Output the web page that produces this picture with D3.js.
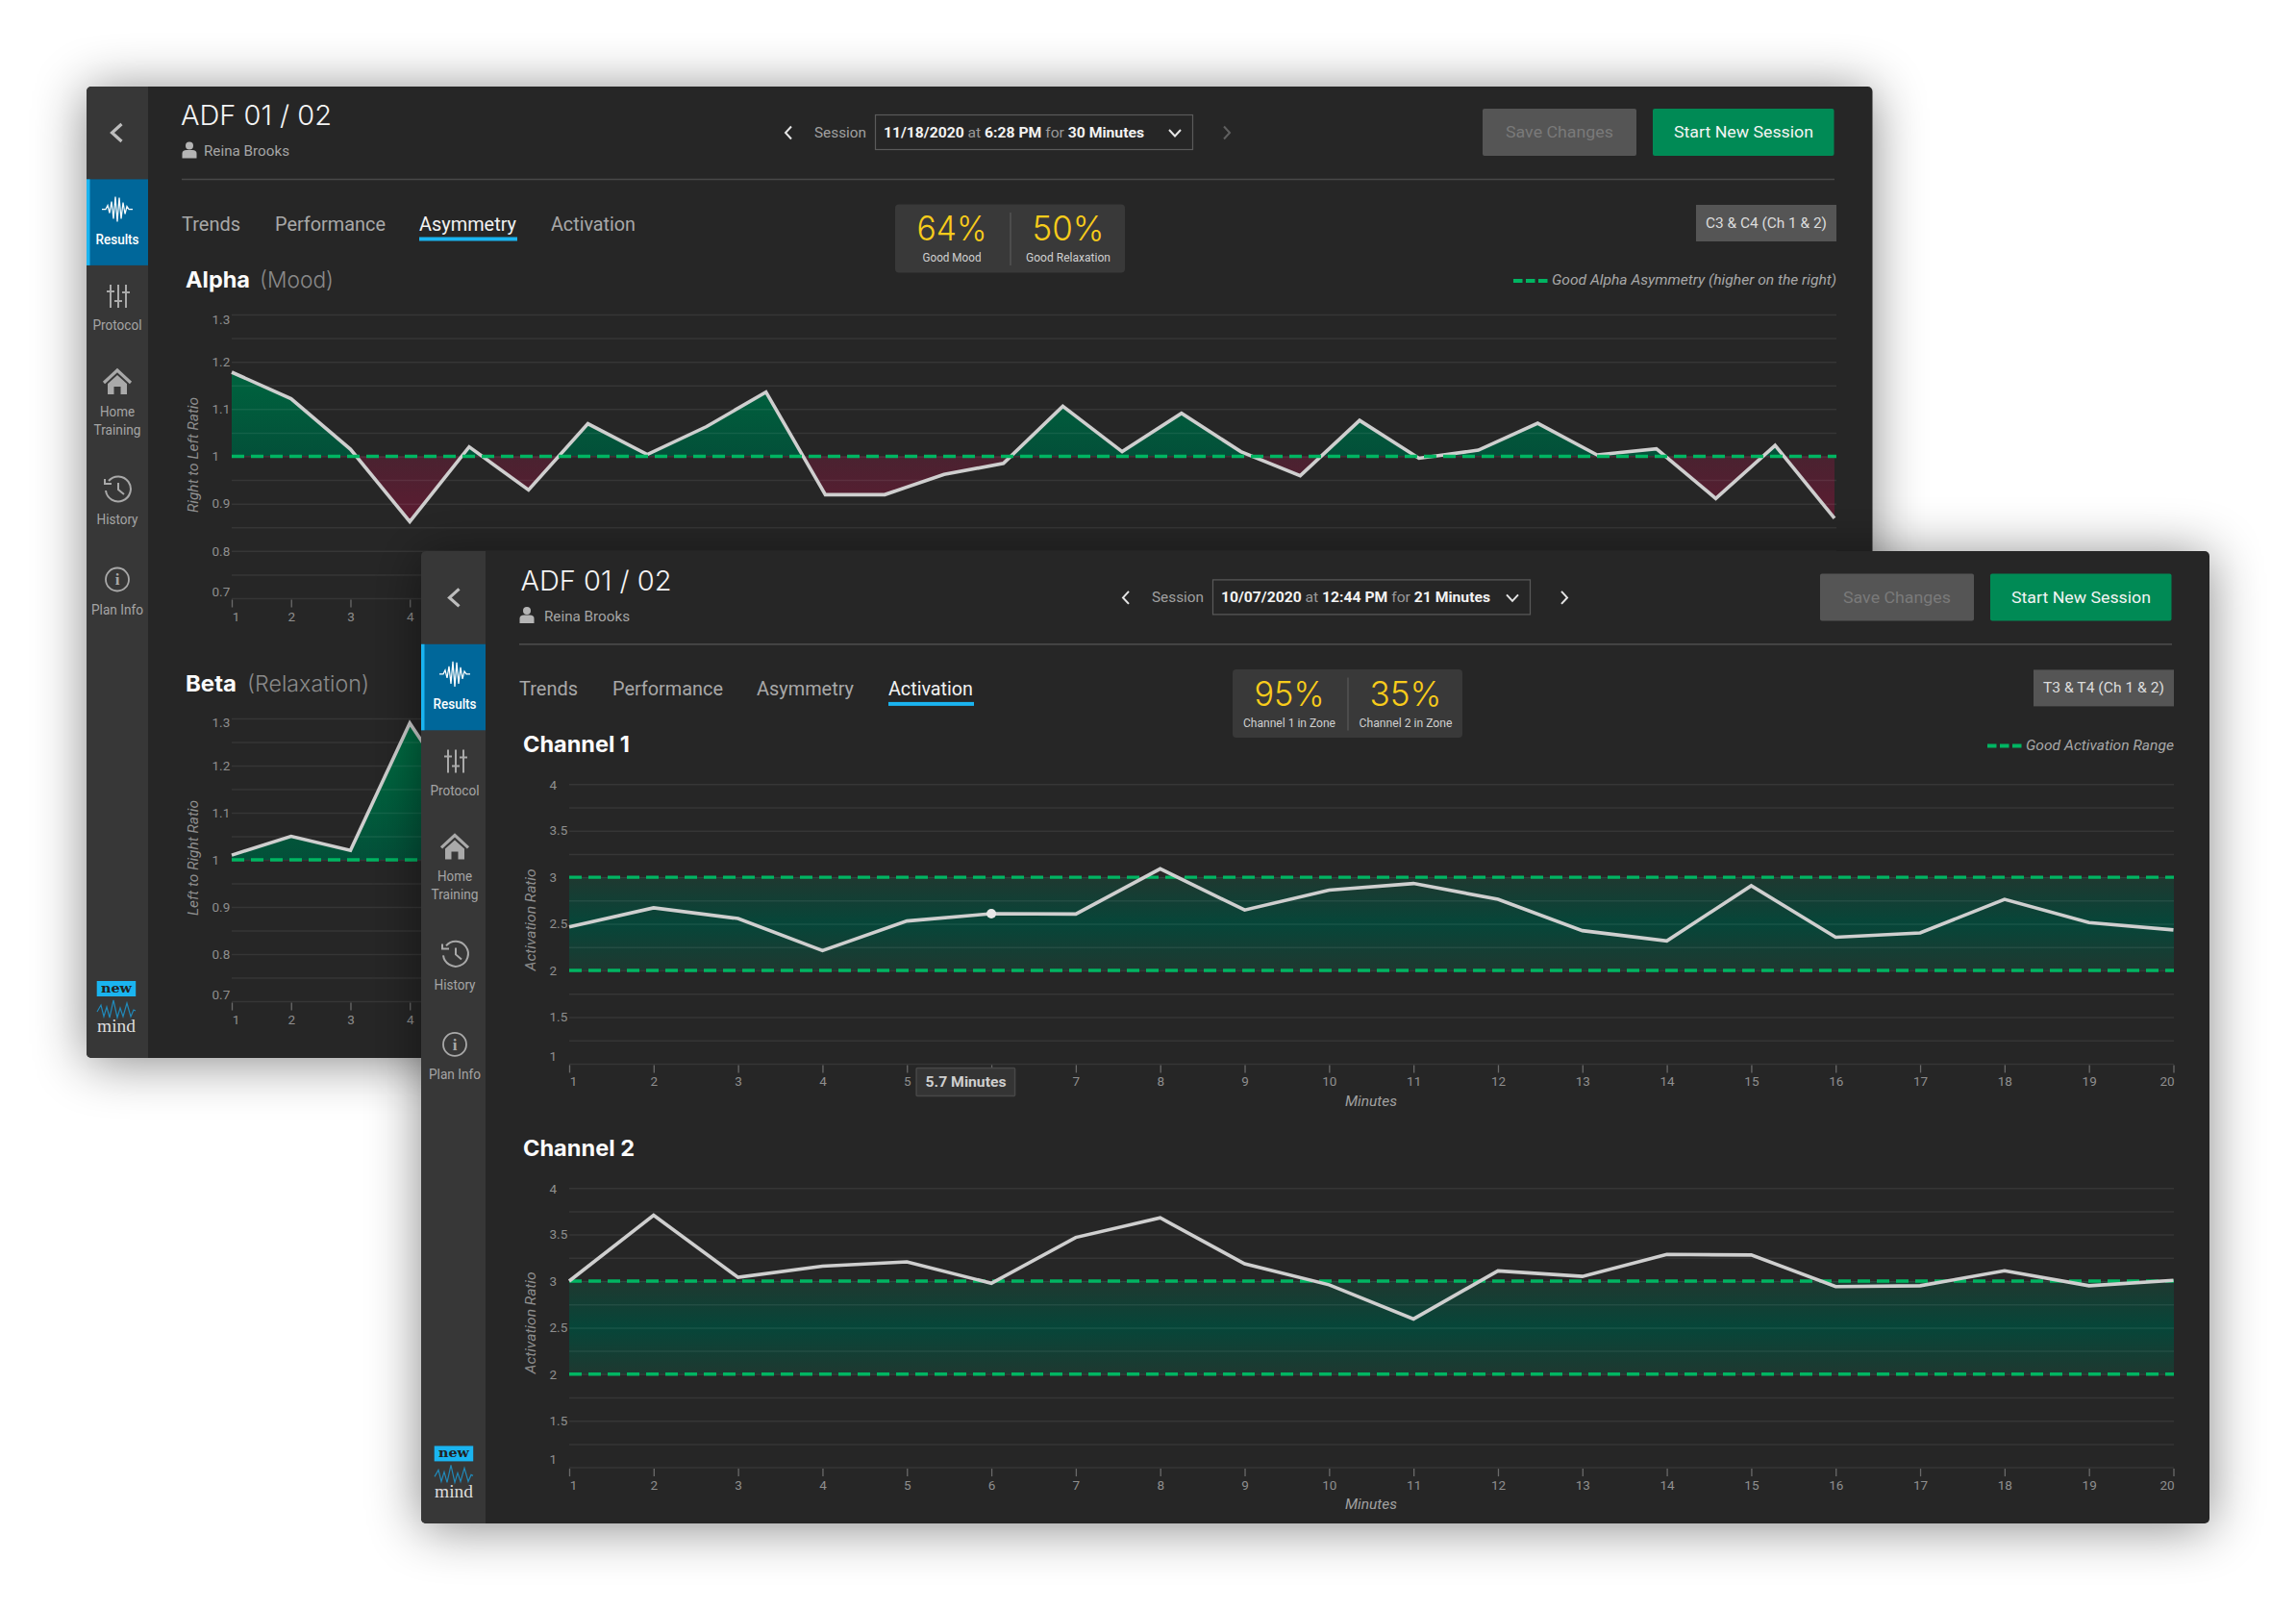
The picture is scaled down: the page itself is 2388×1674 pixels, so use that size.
<!DOCTYPE html>
<html><head><meta charset="utf-8">
<style>html,body{margin:0;padding:0;background:#fff}svg{display:block}text{font-family:Roboto,sans-serif}</style>
<script src="https://cdn.jsdelivr.net/npm/d3@7/dist/d3.min.js"></script>
</head><body>
<script>
// ---------- data ----------
const minutes28 = [1,2,3,4,5,6,7,8,9,10,11,12,13,14,15,16,17,18,19,20,21,22,23,24,25,26,27,28];
const minutes20 = [1,2,3,4,5,6,7,8,9,10,11,12,13,14,15,16,17,18,19,20];
const rearVisibleTicks = [1,2,3,4];
const alphaValues = [1.178,1.122,1.015,0.862,1.02,0.929,1.069,1.004,1.063,1.136,0.919,0.919,0.962,0.985,1.106,1.01,1.091,1.01,0.959,1.076,0.996,1.013,1.07,1.003,1.016,0.911,1.023,0.869];
const betaValues = [1.01,1.05,1.02,1.29,1.1];
const betaMinutes = [1,2,3,4,5];
const channel1Values = [2.466,2.672,2.557,2.213,2.53,2.609,2.605,3.09,2.648,2.862,2.933,2.763,2.427,2.316,2.909,2.356,2.403,2.763,2.514,2.435];
const channel2Values = [3.0,3.707,3.04,3.16,3.207,2.976,3.469,3.679,3.186,2.96,2.593,3.11,3.05,3.286,3.28,2.94,2.95,3.11,2.95,3.007];
const ratioTicks = [0.7,0.8,0.9,1,1.1,1.2,1.3];
const ratioMinor = [0.75,0.85,0.95,1.05,1.15,1.25];
const activationTicks = [1,1.5,2,2.5,3,3.5,4];
const activationMinor = [1.25,1.75,2.25,2.75,3.25,3.75];
const navLabels = ["Results","Protocol","Home","Training","History","Plan Info"];
const tabLabels = ["Trends","Performance","Asymmetry","Activation"];

// ---------- helpers ----------
const W = 2388, H = 1674;
const svg = d3.select("body").append("svg").attr("width",W).attr("height",H).attr("viewBox",[0,0,W,H]);
const defs = svg.append("defs");
const shadow = defs.append("filter").attr("id","winShadow").attr("filterUnits","userSpaceOnUse")
  .attr("x",-600).attr("y",-700).attr("width",3400).attr("height",2900);
shadow.append("feDropShadow").attr("dx",0).attr("dy",4).attr("stdDeviation",27)
  .attr("flood-color","#000").attr("flood-opacity",0.47);
const soft = defs.append("filter").attr("id","softLine").attr("x","-5%").attr("y","-20%").attr("width","110%").attr("height","140%");
soft.append("feGaussianBlur").attr("stdDeviation",0.45);

function grad(id, y1, y2, stops){
  const g = defs.append("linearGradient").attr("id",id).attr("gradientUnits","userSpaceOnUse")
    .attr("x1",0).attr("x2",0).attr("y1",y1).attr("y2",y2);
  stops.forEach(s=>g.append("stop").attr("offset",s[0]).attr("stop-color",s[1]));
}
function t(g,x,y,str,o={}){
  const e = g.append("text").attr("x",x).attr("y",y).attr("dy",".33em")
    .attr("text-anchor",o.anchor||"start")
    .attr("font-size",o.size||15).attr("fill",o.fill||"#aaa")
    .attr("font-weight",o.weight||400).text(str);
  if(o.family) e.style("font-family",o.family);
  if(o.style) e.attr("font-style",o.style);
  if(o.width) e.attr("textLength",o.width).attr("lengthAdjust","spacingAndGlyphs");
  return e;
}
function chevron(g,x,y,dir,stroke,sw,w,h){
  g.append("path").attr("d",`M${x-dir*w/2},${y-h/2} L${x+dir*w/2},${y} L${x-dir*w/2},${y+h/2}`)
   .attr("fill","none").attr("stroke",stroke).attr("stroke-width",sw);
}
const sansHead = "Inter, 'Open Sans', sans-serif";

// ---------- window chrome (coordinates are those of the rear window) ----------
function drawWindow(g,c){
  const L=c.left, R=c.right, T=c.top, B=c.bottom;
  g.append("rect").attr("x",L).attr("y",T).attr("width",R-L).attr("height",B-T).attr("rx",5)
    .attr("fill","#272727").attr("filter","url(#winShadow)");
  // sidebar
  g.append("path").attr("d",`M${L+5},${T} H154 V${B} H${L+5} A5,5 0 0 1 ${L},${B-5} V${T+5} A5,5 0 0 1 ${L+5},${T} Z`).attr("fill","#373737");
  g.append("rect").attr("x",L).attr("y",186.4).attr("width",154-L).attr("height",89.5).attr("fill","#00679a");
  g.append("rect").attr("x",L).attr("y",186.4).attr("width",3.5).attr("height",89.5).attr("fill","#1ab4f0");
  chevron(g,121.5,138,-1,"#bdbdbd",3.2,10,18);
  const cx=122, ico="#a9a9a9";
  // results wave
  g.append("path").attr("transform",`translate(${cx},217.5)`).attr("d","M-16,0 H-12 L-10,-4 L-8,4 L-6,-8 L-4,10 L-2,-13 L0,13 L2,-12 L4,10 L6,-7 L8,5 L10,-3 L12,0 H16")
    .attr("fill","none").attr("stroke","#fff").attr("stroke-width",1.25);
  t(g,cx,249,navLabels[0],{anchor:"middle",size:14.5,fill:"#fff",weight:500,width:45});
  // protocol
  const pg=g.append("g").attr("transform",`translate(${cx+1},308)`).attr("stroke",ico).attr("stroke-width",2).attr("fill","none");
  pg.append("path").attr("d","M-8,-12 V12 M0,-12 V12 M8,-12 V12 M-12,-5 H-4 M-4,5 H4 M4,-4 H12");
  t(g,cx,338.6,navLabels[1],{anchor:"middle",size:14.5,fill:"#a5a5a5",width:51});
  // home
  const hg=g.append("g").attr("transform",`translate(${cx},397)`);
  hg.append("path").attr("d","M-14,1 L0,-12 L14,1").attr("fill","none").attr("stroke",ico).attr("stroke-width",3.2);
  hg.append("path").attr("d","M-10,2 L0,-7 L10,2 V13 H3.5 V5 H-3.5 V13 H-10 Z").attr("fill",ico);
  t(g,cx,428,navLabels[2],{anchor:"middle",size:14.5,fill:"#a5a5a5",width:36});
  t(g,cx,447,navLabels[3],{anchor:"middle",size:14.5,fill:"#a5a5a5",width:49});
  // history
  const hs=g.append("g").attr("transform",`translate(${cx+1},508)`).attr("fill","none").attr("stroke",ico).attr("stroke-width",2);
  hs.append("path").attr("d","M-10,-8 A13,13 0 1 1 -13,2");
  hs.append("path").attr("d","M-14,-10 V-5 H-7");
  hs.append("path").attr("d","M0,-6 V1 L6,6");
  t(g,cx,540.7,navLabels[4],{anchor:"middle",size:14.5,fill:"#a5a5a5",width:43});
  // plan info
  g.append("circle").attr("cx",cx).attr("cy",602.5).attr("r",12).attr("fill","none").attr("stroke",ico).attr("stroke-width",1.8);
  t(g,cx,602.5,"i",{anchor:"middle",size:17,fill:ico,weight:700,family:"'Liberation Serif',serif"});
  t(g,cx,634,navLabels[5],{anchor:"middle",size:14.5,fill:"#a5a5a5",width:54});
  // logo
  g.append("rect").attr("x",100.7).attr("y",1020).attr("width",40.5).attr("height",16).attr("fill","#1ab4f0");
  t(g,121,1027.5,"new",{anchor:"middle",size:13.5,fill:"#222",weight:700,family:"'DejaVu Serif',serif",width:32});
  g.append("path").attr("transform","translate(121,1049)").attr("d","M-20,3 L-16,-4 L-13,8 L-10,-2 L-7,9 L-3,-9 L1,9 L4,-1 L7,8 L11,-6 L15,8 L18,1 L20,2")
    .attr("fill","none").attr("stroke","#2189b9").attr("stroke-width",1.2);
  t(g,121,1067,"mind",{anchor:"middle",size:19,fill:"#ddd",family:"'Liberation Serif',serif",width:40});

  // header
  t(g,188+c.headDx,121,"ADF 01 / 02",{size:28,fill:"#f4f4f4",weight:300,family:sansHead,width:157});
  const pi=g.append("g").attr("transform","translate(197,156.5)").attr("fill","#b5b5b5");
  pi.append("circle").attr("cx",0).attr("cy",-5).attr("r",4);
  pi.append("path").attr("d","M-7.5,8 V3 Q-7.5,-0.5 -3,-0.5 H3 Q7.5,-0.5 7.5,3 V8 Z");
  t(g,212+c.nameDx,157.5,"Reina Brooks",{size:15,fill:"#a5a5a5",width:89});

  chevron(g,820,138,-1,"#e5e5e5",2,6,13);
  t(g,847,138,"Session",{size:15,fill:"#a0a0a0",width:54});
  g.append("rect").attr("x",910.5).attr("y",119.5).attr("width",330).attr("height",36).attr("fill","none").attr("stroke","#5a5a5a").attr("stroke-width",1.2);
  const st=t(g,919,138,"",{size:15,fill:"#9a9a9a",width:c.sessionW});
  [[c.date,1],[" at ",0],[c.time,1],[" for ",0],[c.dur,1]].forEach(p=>{
    const s=st.append("tspan").text(p[0]);
    if(p[1]) s.attr("font-weight",700).attr("fill","#f2f2f2");
  });
  g.append("path").attr("d",`M${c.ddX-6},135 L${c.ddX},141.5 L${c.ddX+6},135`).attr("fill","none").attr("stroke","#e5e5e5").attr("stroke-width",2);
  chevron(g,1276,138,1,c.nextColor,2,6,13);

  g.append("rect").attr("x",1542).attr("y",113).attr("width",160).attr("height",49).attr("rx",2).attr("fill","#555");
  t(g,1622,138,"Save Changes",{anchor:"middle",size:16,fill:"#7a7a7a",width:112});
  g.append("rect").attr("x",1719).attr("y",113).attr("width",188.5).attr("height",49).attr("rx",2).attr("fill","#008a55");
  t(g,1813.5,138,"Start New Session",{anchor:"middle",size:16,fill:"#f4f4f4",weight:400,width:145});
  g.append("line").attr("x1",189).attr("x2",1908).attr("y1",186.5).attr("y2",186.5).attr("stroke","#484848").attr("stroke-width",1.6);

  // tabs
  [[189,61],[286,115],[436,101],[573,88]].forEach((p,i)=>{
    const active=i===c.activeTab;
    t(g,p[0],233,tabLabels[i],{size:20,fill:active?"#f2f2f2":"#a8a8a8",width:p[1]});
    if(active) g.append("rect").attr("x",p[0]).attr("y",246.5).attr("width",p[1]+1).attr("height",4).attr("fill","#1ab4f0");
  });

  // KPI
  g.append("rect").attr("x",931).attr("y",212.5).attr("width",239).attr("height",71).attr("rx",4).attr("fill","#393939");
  g.append("line").attr("x1",1051).attr("x2",1051).attr("y1",221).attr("y2",276).attr("stroke","#555").attr("stroke-width",1.4);
  c.kpi.forEach((k,i)=>{
    const x=i?1111:990;
    t(g,x,238.5,k[0],{anchor:"middle",size:36,fill:"#f8cc1b",weight:300,family:sansHead,width:i?75:73});
    t(g,x,268,k[1],{anchor:"middle",size:12.5,fill:"#d0d0d0",width:c.kpiW[i]});
  });

  // tag
  g.append("rect").attr("x",1764).attr("y",213).attr("width",146).attr("height",38).attr("fill","#555");
  t(g,1837,232,c.tag,{anchor:"middle",size:15,fill:"#dcdcdc",width:126});
  // legend
  g.append("line").attr("x1",c.legendX-40).attr("x2",c.legendX-4).attr("y1",292).attr("y2",292).attr("stroke","#00b562").attr("stroke-width",4).attr("stroke-dasharray","9.5 3.5");
  t(g,c.legendX,291.5,c.legend,{size:14.5,fill:"#a8a8a8",style:"italic",width:1910-c.legendX});
}

// ---------- charts ----------
function drawChart(g,c){
  const x=d3.scaleLinear().domain([1,c.xMax]).range([241,c.xEnd]);
  const y=d3.scaleLinear().domain(c.domain).range([c.bottom,c.top]);
  const line=d3.line().x((d,i)=>x(c.minutes[i])).y(d=>y(d));
  const GRID="rgba(255,255,255,0.075)";
  const gridEnd=1910;

  // filled regions
  if(c.kind==="ratio"){
    const id="fill"+c.id;
    const top=y(1.3), bot=y(0.7), base=(y(1)-top)/(bot-top);
    grad(id,top,bot,[[0,"#006e43"],[0.27,"#005f3d"],[base-0.001,"#035039"],[base,"#4a2230"],[0.8,"#621a32"],[1,"#681833"]]);
    const area=d3.area().x((d,i)=>x(c.minutes[i])).y0(y(1)).y1(d=>y(d));
    g.append("path").datum(c.values).attr("d",area).attr("fill",`url(#${id})`);
  } else {
    const id="fill"+c.id;
    grad(id,y(3),y(2),[[0,"#1f3830"],[0.5,"#064639"],[1,"#1f3830"]]);
    g.append("rect").attr("x",x(1)).attr("width",gridEnd-x(1)).attr("y",y(3)).attr("height",y(2)-y(3)).attr("fill",`url(#${id})`);
  }

  // y gridlines + labels via axes
  const minor=d3.axisLeft(y).tickValues(c.minor).tickSize(-(gridEnd-241)).tickFormat("");
  const gm=g.append("g").attr("transform","translate(241,0)").call(minor);
  const major=d3.axisLeft(y).tickValues(c.yTicks).tickSize(-(gridEnd-241)).tickFormat(d=>d3.format("~g")(d));
  const ga=g.append("g").attr("transform","translate(241,0)").call(major);
  [gm,ga].forEach(a=>{
    a.select(".domain").remove();
    a.selectAll(".tick line").attr("stroke",GRID).attr("stroke-width",1.5);
  });
  const lo=c.yTicks[0], hi=c.yTicks[c.yTicks.length-1];
  ga.selectAll(".tick text")
    .attr("text-anchor","start").attr("x",-20.5).attr("fill","#8f8f8f").attr("font-size",13.5)
    .attr("dy",d=>d===hi?(c.topShift/13.5+0.32)+"em":d===lo?(c.botShift/13.5+0.32)+"em":"0.32em")
    .style("font-family","Roboto");

  // x axis
  const xa=d3.axisBottom(x).tickValues(c.xTicks).tickSize(8).tickSizeOuter(0).tickFormat(d3.format("d"));
  const gx=g.append("g").attr("transform",`translate(0,${c.bottom+1.5})`).call(xa);
  gx.select(".domain").remove();
  gx.selectAll(".tick line").attr("stroke","#6a6a6a").attr("stroke-width",1.3);
  gx.selectAll(".tick text").attr("fill","#8f8f8f").attr("font-size",13.5).attr("y",12.5)
    .attr("dx",d=>d===1?4:(d===c.xMax?-7:0)).style("font-family","Roboto");
  if(c.xTitle) t(g,1075,c.bottom+39,c.xTitle,{anchor:"middle",size:14,fill:"#a0a0a0",style:"italic",width:54});

  // y title
  t(g.append("g").attr("transform",`translate(201,${c.titleY}) rotate(-90)`),0,0,c.yTitle,
    {anchor:"middle",size:14.5,fill:"#8f8f8f",style:"italic",width:c.yTitleW});

  // guides + series
  const drawGuides=()=>c.guides.forEach(v=>{
    g.append("line").attr("x1",241).attr("x2",gridEnd).attr("y1",y(v)).attr("y2",y(v))
      .attr("stroke","#00b562").attr("stroke-width",3.4).attr("stroke-dasharray","13 7");
  });
  const drawLine=()=>g.append("path").datum(c.values).attr("d",line).attr("fill","none")
      .attr("stroke","#cfcfcf").attr("stroke-width",3.6).attr("stroke-linejoin","miter").attr("filter","url(#softLine)");
  if(c.kind==="ratio"){ drawLine(); drawGuides(); } else { drawGuides(); drawLine(); }

  // heading
  t(g,193,c.headY,c.head,{size:23,fill:"#fbfbfb",weight:700,family:sansHead,width:c.headW});
  if(c.sub) t(g,c.subX,c.headY,c.sub,{size:23,fill:"#8a8a8a",weight:300,family:sansHead,width:c.subW});

  // hover marker
  if(c.hover){
    const hx=x(c.hover.minute), hy=y(c.values[c.minutes.indexOf(c.hover.minute)]);
    g.append("circle").attr("cx",hx).attr("cy",hy).attr("r",5).attr("fill","#e8e8e8");
    g.append("rect").attr("x",hx-78).attr("y",c.bottom+4.5).attr("width",102.5).attr("height",29).attr("rx",1)
      .attr("fill","#343434").attr("stroke","#474747").attr("stroke-width",1.5);
    t(g,hx-26.5,c.bottom+19,c.hover.label,{anchor:"middle",size:14.5,fill:"#cfcfcf",weight:700,width:84});
  }
}

// ---------- rear window ----------
const rear=svg.append("g");
drawWindow(rear,{left:90,right:1947.5,top:90,bottom:1100,headDx:0,nameDx:0,sessionW:271,date:"11/18/2020",time:"6:28 PM",dur:"30 Minutes",ddX:1222,
  nextColor:"#5f5f5f",activeTab:2,kpi:[["64%","Good Mood"],["50%","Good Relaxation"]],kpiW:[61,88],tag:"C3 & C4 (Ch 1 & 2)",
  legend:"Good Alpha Asymmetry (higher on the right)",legendX:1614});
drawChart(rear,{id:"Alpha",kind:"ratio",minutes:minutes28,values:alphaValues,xMax:28,xTicks:rearVisibleTicks,xEnd:1908,domain:[0.7,1.3],top:327,bottom:622,
  yTicks:ratioTicks,minor:ratioMinor,topShift:5,botShift:-7,guides:[1],yTitle:"Right to Left Ratio",titleY:473,yTitleW:120,
  head:"Alpha",headW:67,sub:"(Mood)",subX:270,subW:77,headY:291});
drawChart(rear,{id:"Beta",kind:"ratio",minutes:betaMinutes,values:betaValues,xMax:28,xTicks:rearVisibleTicks,xEnd:1908,domain:[0.7,1.3],top:747,bottom:1041,
  yTicks:ratioTicks,minor:ratioMinor,topShift:4,botShift:-7,guides:[1],yTitle:"Left to Right Ratio",titleY:892,yTitleW:120,
  head:"Beta",headW:53,sub:"(Relaxation)",subX:257,subW:127,headY:711});

// ---------- front window ----------
const front=svg.append("g").attr("transform","translate(351,483.4)");
drawWindow(front,{left:87,right:1947,top:89.6,bottom:1100.6,headDx:2.5,nameDx:3,sessionW:280,date:"10/07/2020",time:"12:44 PM",dur:"21 Minutes",ddX:1222,
  nextColor:"#e5e5e5",activeTab:3,kpi:[["95%","Channel 1 in Zone"],["35%","Channel 2 in Zone"]],kpiW:[96,97],tag:"T3 & T4 (Ch 1 & 2)",
  legend:"Good Activation Range",legendX:1756});
drawChart(front,{id:"Ch1",kind:"band",minutes:minutes20,values:channel1Values,xMax:20,xTicks:minutes20,xEnd:1909.5,domain:[1,4],top:331.8,bottom:622.5,
  yTicks:activationTicks,minor:activationMinor,topShift:1,botShift:-8,guides:[2,3],yTitle:"Activation Ratio",titleY:473,yTitleW:106,
  xTitle:"Minutes",head:"Channel 1",headW:111,headY:291.5,hover:{minute:6,label:"5.7 Minutes"}});
drawChart(front,{id:"Ch2",kind:"band",minutes:minutes20,values:channel2Values,xMax:20,xTicks:minutes20,xEnd:1909.5,domain:[1,4],top:751.8,bottom:1042.2,
  yTicks:activationTicks,minor:activationMinor,topShift:1,botShift:-8,guides:[2,3],yTitle:"Activation Ratio",titleY:892,yTitleW:106,
  xTitle:"Minutes",head:"Channel 2",headW:116,headY:711});
</script>
</body></html>
